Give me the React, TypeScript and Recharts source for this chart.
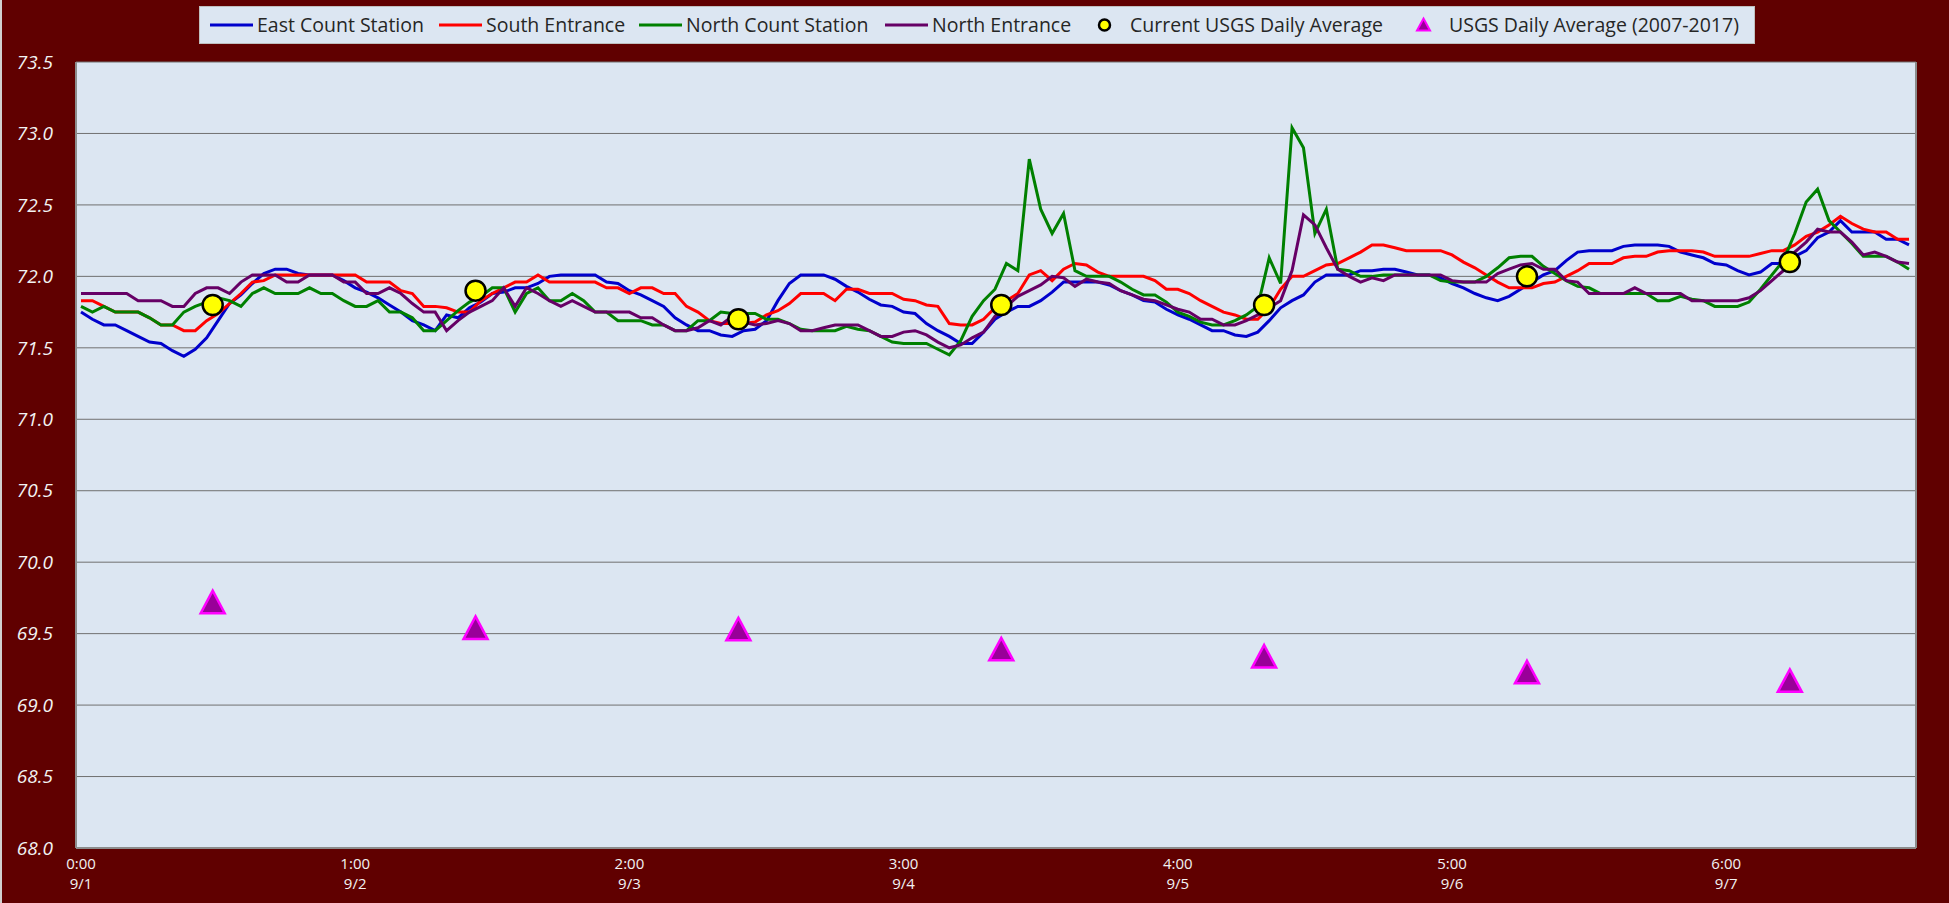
import { ComposedChart, Line, Scatter, XAxis, YAxis, CartesianGrid } from "recharts";

const tickHours = ["0:00", "1:00", "2:00", "3:00", "4:00", "5:00", "6:00"];
const tickDates = ["9/1", "9/2", "9/3", "9/4", "9/5", "9/6", "9/7"];
const tempTicks = [68.0, 68.5, 69.0, 69.5, 70.0, 70.5, 71.0, 71.5, 72.0, 72.5, 73.0, 73.5];

// hourly readings (one every ~62.5 min)
const eastCount = [
  71.75, 71.70, 71.66, 71.66, 71.62, 71.58, 71.54, 71.53, 71.48, 71.44, 71.49, 71.57, 71.69, 71.81, 71.87, 71.95, 72.02, 72.05, 72.05, 72.02, 72.01, 72.01, 72.01, 71.97, 71.92, 71.89, 71.85, 71.80, 71.75,
  71.69, 71.66, 71.62, 71.73, 71.71, 71.78, 71.82, 71.88, 71.89, 71.92, 71.92, 71.95, 72.00, 72.01, 72.01, 72.01, 72.01, 71.96, 71.95, 71.90, 71.87, 71.83, 71.79, 71.71, 71.66, 71.62, 71.62, 71.59,
  71.58, 71.62, 71.63, 71.69, 71.83, 71.95, 72.01, 72.01, 72.01, 71.98, 71.93, 71.89, 71.84, 71.80, 71.79, 71.75, 71.74, 71.67, 71.62,
  71.58, 71.53, 71.53, 71.61, 71.70, 71.75, 71.79, 71.79, 71.83,
  71.89, 71.96, 71.96, 71.96, 71.96, 71.94, 71.90, 71.87, 71.83, 71.82, 71.77, 71.73, 71.70, 71.66, 71.62, 71.62, 71.59, 71.58, 71.61, 71.69, 71.78, 71.83, 71.87, 71.96, 72.01, 72.01, 72.01, 72.04, 72.04,
  72.05, 72.05, 72.03, 72.01, 72.01, 71.99, 71.95, 71.92, 71.88, 71.85, 71.83, 71.86, 71.91, 71.96, 72.01, 72.04, 72.11, 72.17, 72.18, 72.18, 72.18, 72.21, 72.22, 72.22, 72.22, 72.21, 72.17, 72.15, 72.13,
  72.09, 72.08, 72.04, 72.01, 72.03, 72.09, 72.09, 72.14, 72.18, 72.27, 72.31, 72.39, 72.31, 72.31, 72.31, 72.26, 72.26, 72.22,
];

const southEntrance = [
  71.83, 71.83, 71.79, 71.75, 71.75, 71.75, 71.71, 71.66, 71.66, 71.62, 71.62, 71.69, 71.74, 71.81, 71.88, 71.96, 71.97, 72.01, 72.01, 72.01, 72.01, 72.01, 72.01, 72.01, 72.01, 71.96, 71.96, 71.96, 71.90,
  71.88, 71.79, 71.79, 71.78, 71.75, 71.75, 71.83, 71.88, 71.92, 71.96, 71.96, 72.01, 71.96, 71.96, 71.96, 71.96, 71.96, 71.92, 71.92, 71.88, 71.92, 71.92, 71.88, 71.88, 71.79, 71.75, 71.69, 71.67,
  71.67, 71.67, 71.68, 71.73, 71.76, 71.81, 71.88, 71.88, 71.88, 71.83, 71.91, 71.91, 71.88, 71.88, 71.88, 71.84, 71.83, 71.80, 71.79,
  71.67, 71.66, 71.66, 71.70, 71.78, 71.83, 71.88, 72.01, 72.04,
  71.97, 72.05, 72.09, 72.08, 72.03, 72.00, 72.00, 72.00, 72.00, 71.97, 71.91, 71.91, 71.88, 71.83, 71.79, 71.75, 71.73, 71.70, 71.70, 71.78, 71.91, 72.00, 72.00, 72.04, 72.08, 72.09, 72.13, 72.17, 72.22,
  72.22, 72.20, 72.18, 72.18, 72.18, 72.18, 72.15, 72.10, 72.06, 72.01, 71.96, 71.92, 71.92, 71.92, 71.95, 71.96, 72.00, 72.04, 72.09, 72.09, 72.09, 72.13, 72.14, 72.14, 72.17, 72.18, 72.18, 72.18, 72.17,
  72.14, 72.14, 72.14, 72.14, 72.16, 72.18, 72.18, 72.22, 72.28, 72.31, 72.36, 72.42, 72.37, 72.33, 72.31, 72.31, 72.26, 72.26,
];

const northCount = [
  71.79, 71.75, 71.79, 71.75, 71.75, 71.75, 71.71, 71.66, 71.66, 71.75, 71.79, 71.82, 71.85, 71.83, 71.79, 71.88, 71.92, 71.88, 71.88, 71.88, 71.92, 71.88, 71.88, 71.83, 71.79, 71.79, 71.83, 71.75, 71.75,
  71.71, 71.62, 71.62, 71.69, 71.76, 71.82, 71.86, 71.92, 71.92, 71.75, 71.88, 71.92, 71.83, 71.83, 71.88, 71.83, 71.75, 71.75, 71.69, 71.69, 71.69, 71.66, 71.66, 71.62, 71.62, 71.69, 71.69, 71.75,
  71.74, 71.74, 71.74, 71.70, 71.70, 71.67, 71.63, 71.62, 71.62, 71.62, 71.65, 71.63, 71.62, 71.58, 71.54, 71.53, 71.53, 71.53, 71.49,
  71.45, 71.55, 71.72, 71.83, 71.91, 72.09, 72.04, 72.82, 72.47,
  72.30, 72.44, 72.04, 72.00, 72.00, 72.00, 71.96, 71.91, 71.87, 71.87, 71.82, 71.75, 71.72, 71.68, 71.66, 71.66, 71.69, 71.73, 71.79, 72.13, 71.95, 73.04, 72.90, 72.30, 72.47, 72.05, 72.04, 72.00, 72.00,
  72.01, 72.01, 72.01, 72.01, 72.01, 71.97, 71.96, 71.96, 71.96, 72.00, 72.06, 72.13, 72.14, 72.14, 72.07, 72.02, 71.97, 71.93, 71.92, 71.88, 71.88, 71.88, 71.88, 71.88, 71.83, 71.83, 71.86, 71.84, 71.83,
  71.79, 71.79, 71.79, 71.82, 71.91, 72.01, 72.11, 72.30, 72.52, 72.61, 72.39, 72.31, 72.23, 72.14, 72.14, 72.14, 72.10, 72.05,
];

const northEntrance = [
  71.88, 71.88, 71.88, 71.88, 71.88, 71.83, 71.83, 71.83, 71.79, 71.79, 71.88, 71.92, 71.92, 71.88, 71.96, 72.01, 72.01, 72.01, 71.96, 71.96, 72.01, 72.01, 72.01, 71.96, 71.96, 71.88, 71.88, 71.92, 71.88,
  71.81, 71.75, 71.75, 71.62, 71.69, 71.75, 71.79, 71.83, 71.92, 71.79, 71.92, 71.88, 71.83, 71.79, 71.83, 71.79, 71.75, 71.75, 71.75, 71.75, 71.71, 71.71, 71.66, 71.62, 71.62, 71.64, 71.69, 71.66,
  71.72, 71.68, 71.66, 71.67, 71.69, 71.67, 71.62, 71.62, 71.64, 71.66, 71.66, 71.66, 71.62, 71.58, 71.58, 71.61, 71.62, 71.59, 71.54,
  71.50, 71.52, 71.57, 71.61, 71.72, 71.79, 71.86, 71.90, 71.94,
  72.00, 71.99, 71.93, 71.98, 71.96, 71.95, 71.90, 71.87, 71.84, 71.83, 71.80, 71.77, 71.75, 71.70, 71.70, 71.66, 71.66, 71.69, 71.73, 71.78, 71.83, 72.04, 72.43, 72.36, 72.20, 72.05, 72.00, 71.96, 71.99,
  71.97, 72.01, 72.01, 72.01, 72.01, 72.01, 71.97, 71.96, 71.96, 71.96, 72.02, 72.05, 72.08, 72.09, 72.05, 72.05, 71.97, 71.96, 71.88, 71.88, 71.88, 71.88, 71.92, 71.88, 71.88, 71.88, 71.88, 71.83, 71.83,
  71.83, 71.83, 71.83, 71.85, 71.90, 71.97, 72.04, 72.17, 72.24, 72.33, 72.31, 72.31, 72.24, 72.15, 72.17, 72.14, 72.10, 72.09,
];

const currentDailyAvg = [71.8, 71.9, 71.7, 71.8, 71.8, 72.0, 72.1];
const historicDailyAvg = [69.72, 69.54, 69.53, 69.39, 69.34, 69.23, 69.17];

const rows = eastCount.map((v, i) => ({
  slot: i,
  east: v,
  south: southEntrance[i],
  northCount: northCount[i],
  northEntrance: northEntrance[i],
}));

const dailyRows = tickDates.map((d, k) => ({
  day: k,
  date: d,
  current: currentDailyAvg[k],
  historic: historicDailyAvg[k],
}));

const BG = "#600000";
const PLOT_BG = "#DCE6F2";
const BORDER = "#8C8C8C";
const GRID = "#707070";
const FONT = "'Open Sans', sans-serif";

const COLORS = {
  east: "#0000CC",
  south: "#FF0000",
  northCount: "#008000",
  northEntrance: "#660066",
};

const HourTick = ({ x, y, payload }: { x?: number; y?: number; payload?: { value: number } }) => {
  const k = Math.round((payload?.value ?? 0) / 24);
  return (
    <g transform={`translate(${x},${y})`}>
      <text textAnchor="middle" y={16} dy="0.35em" fill="#F2F2F2" fontSize={15} fontFamily={FONT}>
        {tickHours[k]}
      </text>
      <text textAnchor="middle" y={36} dy="0.35em" fill="#F2F2F2" fontSize={15} fontFamily={FONT}>
        {tickDates[k]}
      </text>
    </g>
  );
};

const CircleMark = (props: { cx?: number; cy?: number }) => (
  <circle cx={props.cx} cy={props.cy} r={10} fill="#FFFF00" stroke="#000000" strokeWidth={2.5} />
);

const TriangleMark = (props: { cx?: number; cy?: number }) => {
  const cx = props.cx ?? 0;
  const cy = props.cy ?? 0;
  return (
    <path
      d={`M${cx},${cy - 11.5} L${cx + 12},${cy + 11} L${cx - 12},${cy + 11} Z`}
      fill="#990099"
      stroke="#FF00FF"
      strokeWidth={2.5}
      strokeLinejoin="miter"
    />
  );
};

const legendItems = [
  { name: "East Count Station", kind: "line", color: COLORS.east, w: 170 },
  { name: "South Entrance", kind: "line", color: COLORS.south, w: 141 },
  { name: "North Count Station", kind: "line", color: COLORS.northCount, w: 187 },
  { name: "North Entrance", kind: "line", color: COLORS.northEntrance, w: 139 },
  { name: "Current USGS Daily Average", kind: "circle", color: "#FFFF00", w: 260 },
  { name: "USGS Daily Average (2007-2017)", kind: "triangle", color: "#990099", w: 303 },
];

function LegendBox() {
  return (
    <div
      style={{
        position: "absolute",
        left: 199,
        top: 6,
        width: 1556,
        height: 38,
        boxSizing: "border-box",
        background: PLOT_BG,
        border: "1px solid #BFBFBF",
        display: "flex",
        alignItems: "center",
        paddingLeft: 10,
        gap: 12,
        fontFamily: FONT,
        fontSize: 19.5,
        color: "#262626",
      }}
    >
      {legendItems.map((it) => (
        <div key={it.name} style={{ display: "flex", alignItems: "center", gap: 4 }}>
          <svg width={43} height={20}>
            {it.kind === "line" && <line x1={0} x2={43} y1={10} y2={10} stroke={it.color} strokeWidth={3} />}
            {it.kind === "circle" && <circle cx={21.5} cy={10} r={5.5} fill="#FFFF00" stroke="#000" strokeWidth={2.5} />}
            {it.kind === "triangle" && (
              <path d="M21.5,3.5 L28,15.5 L15,15.5 Z" fill="#990099" stroke="#FF00FF" strokeWidth={2} />
            )}
          </svg>
          <span style={{ width: it.w, whiteSpace: "nowrap", lineHeight: "20px" }}>{it.name}</span>
        </div>
      ))}
    </div>
  );
}

export default function App() {
  return (
    <div
      style={{
        position: "relative",
        width: 1949,
        height: 903,
        background: BG,
        boxShadow: "inset 2px 0 0 #D0D0D0",
        fontFamily: FONT,
        overflow: "hidden",
      }}
    >
      <style>{"body{margin:0}"}</style>
      <ComposedChart width={1949} height={903} data={rows} margin={{ top: 62, right: 32, bottom: 0, left: 0 }}>
        <CartesianGrid
          xAxisId="hour"
          yAxisId="temp"
          vertical={false}
          stroke={GRID}
          strokeWidth={1}
          fill={PLOT_BG}
          fillOpacity={1}
        />
        <XAxis
          xAxisId="hour"
          dataKey="slot"
          type="category"
          scale="point"
          padding={{ left: 5, right: 7 }}
          interval={23}
          tick={<HourTick />}
          tickLine={false}
          tickSize={0}
          tickMargin={0}
          axisLine={{ stroke: BORDER, strokeWidth: 2 }}
          height={55}
        />
        <XAxis
          xAxisId="day"
          dataKey="day"
          type="number"
          orientation="top"
          height={0}
          domain={[-0.52, 6.48]}
          hide
        />
        <YAxis
          yAxisId="temp"
          type="number"
          domain={[68, 73.5]}
          ticks={tempTicks}
          interval={0}
          tickFormatter={(v: number) => v.toFixed(1)}
          tick={{ fill: "#F2F2F2", fontSize: 19, fontStyle: "italic", fontFamily: FONT }}
          tickLine={false}
          tickSize={0}
          tickMargin={23}
          axisLine={{ stroke: BORDER, strokeWidth: 2 }}
          width={76}
        />
        <YAxis
          yAxisId="edge"
          orientation="right"
          type="number"
          domain={[68, 73.5]}
          tick={false}
          tickLine={false}
          axisLine={{ stroke: BORDER, strokeWidth: 2 }}
          width={1}
        />
        <Line xAxisId="hour" yAxisId="temp" type="linear" dataKey="east" name="East Count Station" stroke={COLORS.east} strokeWidth={3} dot={false} isAnimationActive={false} />
        <Line xAxisId="hour" yAxisId="temp" type="linear" dataKey="south" name="South Entrance" stroke={COLORS.south} strokeWidth={3} dot={false} isAnimationActive={false} />
        <Line xAxisId="hour" yAxisId="temp" type="linear" dataKey="northCount" name="North Count Station" stroke={COLORS.northCount} strokeWidth={3} dot={false} isAnimationActive={false} />
        <Line xAxisId="hour" yAxisId="temp" type="linear" dataKey="northEntrance" name="North Entrance" stroke={COLORS.northEntrance} strokeWidth={3} dot={false} isAnimationActive={false} />
        <Scatter xAxisId="day" yAxisId="temp" data={dailyRows} dataKey="current" name="Current USGS Daily Average" shape={CircleMark} isAnimationActive={false} />
        <Scatter xAxisId="day" yAxisId="temp" data={dailyRows} dataKey="historic" name="USGS Daily Average (2007-2017)" shape={TriangleMark} isAnimationActive={false} />
      </ComposedChart>
      <LegendBox />
    </div>
  );
}
